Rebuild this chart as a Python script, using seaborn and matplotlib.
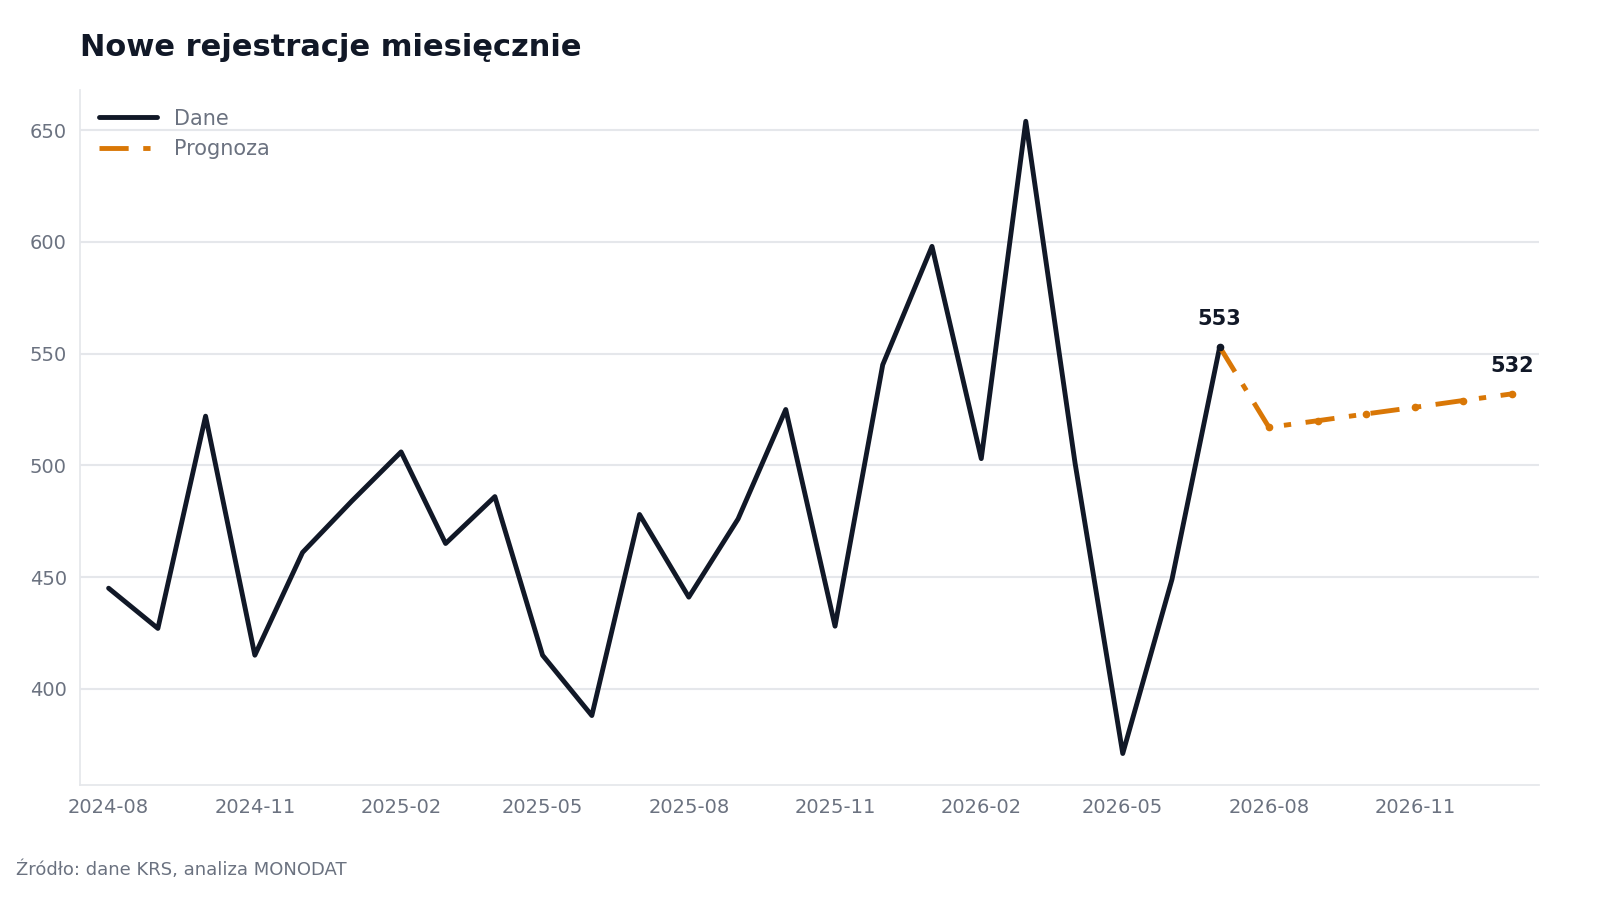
import matplotlib
matplotlib.use("Agg")
import matplotlib.pyplot as plt
import matplotlib.dates as mdates
import seaborn as sns
import pandas as pd

sns.set_theme(style="white")
plt.rcParams['font.family'] = ['DejaVu Sans']

dates = pd.date_range("2024-08-01", "2026-07-01", freq="MS")
values = [445, 427, 522, 415, 461, 484, 506, 465, 486, 415, 388, 478, 441, 476, 525,
          428, 545, 598, 503, 654, 501, 371, 449, 553]
f_dates = pd.date_range("2026-07-01", "2027-01-01", freq="MS")
f_values = [553, 517, 520, 523, 526, 529, 532]

df = pd.DataFrame({"date": dates, "v": values})
fdf = pd.DataFrame({"date": f_dates, "v": f_values})

fig, ax = plt.subplots(figsize=(16, 9), dpi=100)
fig.subplots_adjust(left=0.05, right=0.962, top=0.90, bottom=0.128)
sns.lineplot(data=df, x="date", y="v", ax=ax, color="#111827", lw=3.5, label="Dane")
sns.lineplot(data=fdf, x="date", y="v", ax=ax, color="#d97706", lw=3.5,
             linestyle="-.", label="Prognoza")
ax.lines[1].set_dashes([6, 3, 1.5, 3])
ax.plot(fdf["date"][1:], fdf["v"][1:], "o", color="#d97706", ms=4.5)
ax.plot([dates[-1]], [values[-1]], "o", color="#111827", ms=4.5)
ax.annotate(f"{values[-1]}", (dates[-1], values[-1]), xytext=(0, 16), textcoords="offset points",
            ha="center", fontsize=15, fontweight="bold", color="#111827")
ax.annotate(f"{f_values[-1]}", (f_dates[-1], f_values[-1]), xytext=(0, 16), textcoords="offset points",
            ha="center", fontsize=15, fontweight="bold", color="#111827")

ax.set_xlim(pd.Timestamp("2024-07-14"), pd.Timestamp("2027-01-18"))
ax.set_ylim(357, 668)
ax.set_yticks([400, 450, 500, 550, 600, 650])
ax.set_xticks(pd.date_range("2024-08-01", "2026-11-01", freq="3MS"))
ax.xaxis.set_major_formatter(mdates.DateFormatter("%Y-%m"))
ax.grid(axis="y", color="#e5e7eb", lw=1.5)
ax.set_xlabel(""); ax.set_ylabel("")
for s in ["top", "right"]:
    ax.spines[s].set_visible(False)
for s in ["left", "bottom"]:
    ax.spines[s].set_color("#e5e7eb")
ax.tick_params(colors="#6b7280", labelsize=14)
leg = ax.legend(loc="upper left", frameon=False, fontsize=15, handlelength=2.8)
for t in leg.get_texts():
    t.set_color("#6b7280")
fig.text(0.05, 0.938, "Nowe rejestracje miesięcznie", fontsize=22, fontweight="bold", color="#111827")
fig.text(0.01, 0.028, "Źródło: dane KRS, analiza MONODAT", fontsize=13, color="#6b7280")
fig.savefig("out.png")
